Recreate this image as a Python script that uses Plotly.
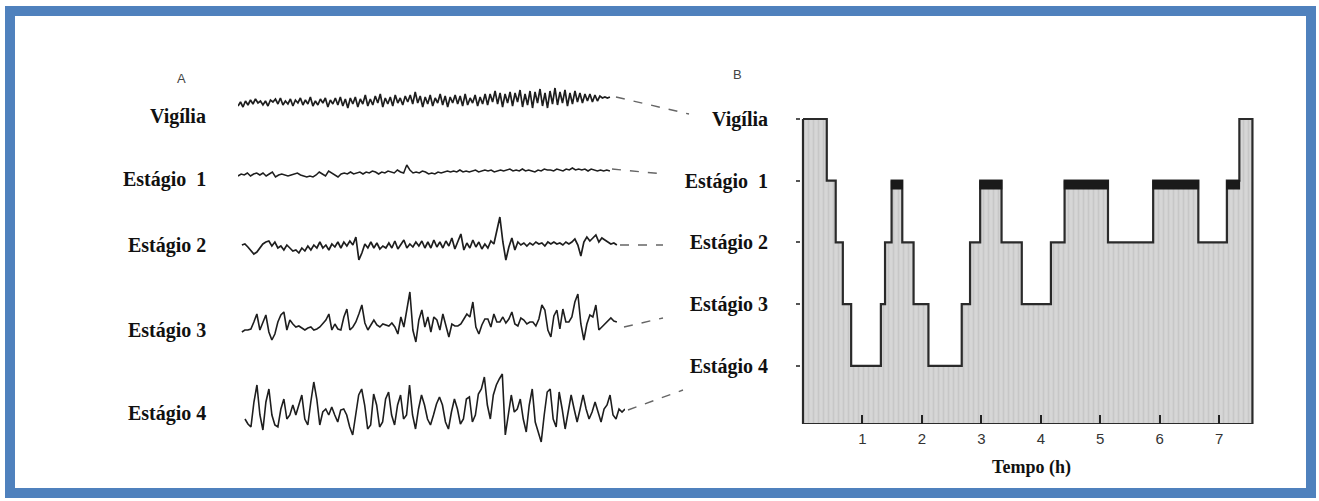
import numpy as np
import plotly.graph_objects as go

W, H = 1319, 501

# ---------------- data ----------------
stage_labels_a = ["Vigília", "Estágio  1", "Estágio 2", "Estágio 3", "Estágio 4"]
stage_labels_b = ["Vigília", "Estágio  1", "Estágio 2", "Estágio 3", "Estágio 4"]

# EEG samples (arbitrary amplitude units, positive = up), panel A
eeg_vigilia = [-6, -2, -7, -1, -5, 0, -4, 1, -3, -1, -5, -1, -6, 0, -2, 1, -4, 2, -5, -1,
               -4, 1, -6, 0, -3, 2, -5, 0, -4, 3, -6, -1, -5, 1, -3, 2, -7, 0, -4, 2,
               -5, 3, -6, 1, -8, 2, -4, 3, -7, 1,
               -4, 5, -6, 1, -5, 4, -3, 6, -7, 2, -4, 3, -6, 5, -3, 2, -5, 4, -2, 5,
               -4, 8, -3, 4, -7, 3, -4, 5, -6, 2, -3, 6, -5, 4, -7, 3, -3, 5, -4, 4,
               -6, 6, -5, 2, -3, 5, -6, 3, -4, 6,
               -5, 6, -2, 9, -4, 7, -7, 6, -3, 8, -6, 7, -2, 10, -7, 6, -5, 9, -8, 8,
               -3, 11, -6, 7, -8, 9, -4, 12, -5, 8, -3, 10, -6, 7, -4, 9, -2, 7, -3, 6,
               -1, 6, -2, 5, -1, 4, 2, 3, 2, 3]
eeg_estagio1 = [-1, 1, 0, 2, -1, 1, 2, 0, 2, -1, 1, 3, -2, 0, 1, 0, -1, 0, 1, 2,
                0, -1, -2, -1, -2, 0, 3, 1, -1, 4, 2, 0, -2, 1, 2, 1, 3, 1, 2, 3,
                1, 3, 2, 4, 3, 1, 3, 2, 4, 3, 2, 5, 3, 2, 10, 5, 2, 3, 2, 4,
                3, 1, 2, 1, 3, 2, 3, 4, 3, 4, 3, 5, 3, 4, 3, 4, 5, 3, 4, 5,
                4, 5, 3, 4, 5, 4, 5, 6, 4, 5, 4, 6, 4, 5, 4, 3, 5, 4, 6, 5,
                5, 4, 6, 5, 4, 6, 5, 7, 5, 6, 5, 6, 4, 6, 5, 4, 5, 4, 5, 4]
eeg_estagio2 = [2, 3, 0, -3, -7, -5, -1, 3, 5, 6, 1, 5, -1, 1, -3, 2, -1, -4, -3, -6,
                -1, -4, 1, -3, 2, -1, 5, -1, 2, -3, 3, 0, 5, -1, 5, 1, 6, 2, 10, -13,
                -6, 3, -1, 5, -1, 4, -2, 1, -1, 4, -1, 6, -2, 3, 7, -1, 3, 0, 5, 1,
                6, -1, 5, -1, 7, 0, 5, -1, 6, 1, 9, -2, 5, 13, -3, 4, -1, 7, 0, 5,
                -2, 3, -1, 6, 3, 16, 30, 5, -13, 0, 9, -3, 5, 2, 4, 1, 4, 2, 5, 3,
                4, 1, 5, 3, 5, 3, 4, 2, 5, 3, 5, 8, 2, -9, 5, 10, 6, 9, 12, 5,
                9, 7, 5, 3, 4, 2]
eeg_estagio3 = [-5, -3, -3, -2, 5, 13, -3, 5, 12, -5, -13, -7, 5, 12, 15, -3, 7, 3, 0, 1,
                -1, -3, -1, 0, -3, -2, 0, 3, 7, 13, -3, 3, -2, -3, 10, 18, -3, 0, 5, 13,
                22, 4, -3, 2, 7, 2, 0, 3, 2, 1, 4, 0, -7, 10, 0, 20, 35, -3, -15, 7,
                17, 0, 10, -5, 10, 7, -3, 13, 0, -10, 3, 1, 1, 3, 8, 13, 10, 25, 0, -7,
                2, 8, 8, 0, 13, 5, 5, 10, 4, 8, 15, 3, 1, 9, 7, 3, 5, 5, 1, 8,
                22, 17, -3, -10, 11, 17, -2, 18, 5, 5, 10, 25, 33, 3, -13, 3, 12, 10, 22, -3,
                0, 3, 6, 9, 6, 5]
eeg_estagio4 = [-7, -12, -15, 10, 27, -3, -18, 10, 23, -3, -13, -15, 3, 13, -7, -3, 7, -3, 7, 17,
                -7, -13, 10, 30, 13, -13, 0, 3, -3, 5, -3, -10, 2, 3, -3, -15, -23, -3, 17, 23,
                7, -17, -13, 18, 7, -15, -10, 13, 20, -3, -13, 7, 17, -7, -3, 27, -3, -17, 3, 17,
                7, -7, -13, -3, 8, 15, 7, -10, -17, 0, 13, 3, -12, -7, 13, 15, -10, -3, 18, 23,
                35, 7, -7, 17, 27, 33, 38, -23, -3, 17, 0, 3, 13, -7, -20, 7, 23, -10, -20, -30,
                -3, 20, 23, -7, -15, 20, 3, -17, 0, 17, 3, -10, 3, 17, 3, -7, 0, 10, 0, -10,
                3, 7, 17, -3, -7, 3, 0, 3]
eeg_series = [eeg_vigilia, eeg_estagio1, eeg_estagio2, eeg_estagio3, eeg_estagio4]
eeg_span_s = [(0.0, 9.61), (0.0, 9.61), (0.10, 9.79), (0.10, 9.79), (0.18, 10.0)]

# Hypnogram (panel B): epoch start (h), stage code, final end time
hyp_start_h = [0.0, 0.40, 0.55, 0.67, 0.81, 1.31, 1.38, 1.49, 1.67, 1.86, 2.11, 2.67,
               2.81, 2.98, 3.34, 3.68, 4.17, 4.40, 5.13, 5.89, 6.65, 7.13, 7.34]
hyp_stage = ["W", "1", "2", "3", "4", "3", "2", "REM", "2", "3", "4", "3",
             "2", "REM", "2", "3", "2", "REM", "2", "REM", "2", "REM", "W"]
hyp_end_h = 7.56
x_ticks_h = [1, 2, 3, 4, 5, 6, 7]

# ---------------- layout helpers ----------------
def px(x):
    return x / W

def py(y):
    return 1 - y / H

stage_level = {"W": 0, "1": 1, "2": 2, "3": 3, "4": 4, "REM": 1}
Y_BOTTOM = 4.943
Y_TOP = -0.308
REM_BAND = 0.13

fig = go.Figure()

# ---- Panel A: EEG traces ----
eeg_baseline_px = [100, 175, 247, 327, 412]
eeg_widths = [1.7, 1.5, 1.7, 1.6, 1.6]
for vals, span, base, lw in zip(eeg_series, eeg_span_s, eeg_baseline_px, eeg_widths):
    t = np.linspace(span[0], span[1], len(vals))
    y = base - np.array(vals, dtype=float)
    fig.add_trace(go.Scatter(x=t, y=y, mode="lines", xaxis="x2", yaxis="y2",
                             line=dict(color="#1e1e1e", width=lw),
                             hoverinfo="skip", showlegend=False))

# ---- Panel B: hypnogram ----
ends = hyp_start_h[1:] + [hyp_end_h]
xs, ys = [], []
for s, e, st in zip(hyp_start_h, ends, hyp_stage):
    lv = stage_level[st]
    xs += [s, e]
    ys += [lv, lv]
xs += [hyp_end_h, hyp_start_h[0], hyp_start_h[0]]
ys += [Y_BOTTOM, Y_BOTTOM, ys[0]]
fig.add_trace(go.Scatter(x=xs, y=ys, mode="lines", fill="toself",
                         fillcolor="#d4d4d4",
                         fillpattern=dict(shape="|", fgcolor="#b8b8b8", bgcolor="#d6d6d6",
                                          size=5, solidity=0.35),
                         line=dict(color="#2a2a2a", width=2.2),
                         hoverinfo="skip", showlegend=False))

rx, ry = [], []
for s, e, st in zip(hyp_start_h, ends, hyp_stage):
    if st == "REM":
        lv = stage_level[st]
        rx += [s, e, e, s, s, None]
        ry += [lv, lv, lv + REM_BAND, lv + REM_BAND, lv, None]
fig.add_trace(go.Scatter(x=rx, y=ry, mode="lines", fill="toself", fillcolor="#1a1a1a",
                         line=dict(color="#1a1a1a", width=1.5),
                         hoverinfo="skip", showlegend=False))

# ---------------- axes ----------------
X0_PX = 803.0
PX_PER_H = 59.45
xd0, xd1 = 801.0, 1262.0
fig.update_layout(
    width=W, height=H,
    margin=dict(l=0, r=0, t=0, b=0),
    paper_bgcolor="white", plot_bgcolor="rgba(0,0,0,0)",
    xaxis=dict(domain=[px(xd0), px(xd1)],
               range=[(xd0 - X0_PX) / PX_PER_H, (xd1 - X0_PX) / PX_PER_H],
               tickvals=x_ticks_h, ticktext=[str(v) for v in x_ticks_h],
               ticks="inside", ticklen=9, tickwidth=1.5, tickcolor="#222",
               ticklabelstandoff=4,
               tickfont=dict(family="Liberation Sans", size=15, color="#333"),
               showgrid=False, zeroline=False, showline=False,
               title=dict(text="<b>Tempo (h)</b>", standoff=14,
                          font=dict(family="Liberation Serif", size=18, color="#111")),
               fixedrange=True),
    yaxis=dict(domain=[py(424), py(100)], range=[Y_BOTTOM, Y_TOP],
               tickvals=[0, 1, 2, 3, 4],
               ticktext=["<b>%s</b>" % s for s in stage_labels_b],
               ticks="outside", ticklen=4, tickwidth=1.5, tickcolor="#555",
               ticklabelstandoff=24,
               tickfont=dict(family="Liberation Serif", size=20, color="#111"),
               showgrid=False, zeroline=False, showline=False, fixedrange=True),
    xaxis2=dict(domain=[px(238), px(625)], range=[0, 10], visible=False,
                anchor="y2", fixedrange=True),
    yaxis2=dict(domain=[0, 1], range=[H, 0], visible=False,
                anchor="x2", fixedrange=True),
)

# ---------------- annotations ----------------
label_a_y = [117, 180, 245, 330, 413]
annotations = []
for txt, yy in zip(stage_labels_a, label_a_y):
    annotations.append(dict(text="<b>%s</b>" % txt, x=px(208), y=py(yy),
                            xref="paper", yref="paper", xanchor="right", yanchor="middle",
                            showarrow=False,
                            font=dict(family="Liberation Serif", size=20, color="#111")))
annotations.append(dict(text="A", x=px(181), y=py(78), xref="paper", yref="paper",
                        xanchor="center", yanchor="middle",
                        showarrow=False, font=dict(family="Liberation Sans", size=13, color="#444")))
annotations.append(dict(text="B", x=px(738), y=py(75), xref="paper", yref="paper",
                        xanchor="center", yanchor="middle",
                        showarrow=False, font=dict(family="Liberation Sans", size=13, color="#444")))
fig.update_layout(annotations=annotations)

# ---------------- shapes: connectors and frame ----------------
connectors = [((616, 97), (689, 114)), ((612, 169), (664, 174)), ((620, 245), (663, 245)),
              ((624, 327), (663, 318)), ((628, 410), (683, 390))]
shapes = []
for (a, b) in connectors:
    shapes.append(dict(type="line", xref="paper", yref="paper",
                       x0=px(a[0]), y0=py(a[1]), x1=px(b[0]), y1=py(b[1]),
                       line=dict(color="#666", width=1.4, dash="dash")))
shapes.append(dict(type="rect", xref="paper", yref="paper",
                   x0=px(10), y0=py(11), x1=px(1311), y1=py(493),
                   line=dict(color="#4F81BD", width=10), layer="above"))
fig.update_layout(shapes=shapes)

fig.write_html("out.html", config={"displayModeBar": False},
               post_script="document.body.style.margin='0';document.body.style.overflow='hidden';")
